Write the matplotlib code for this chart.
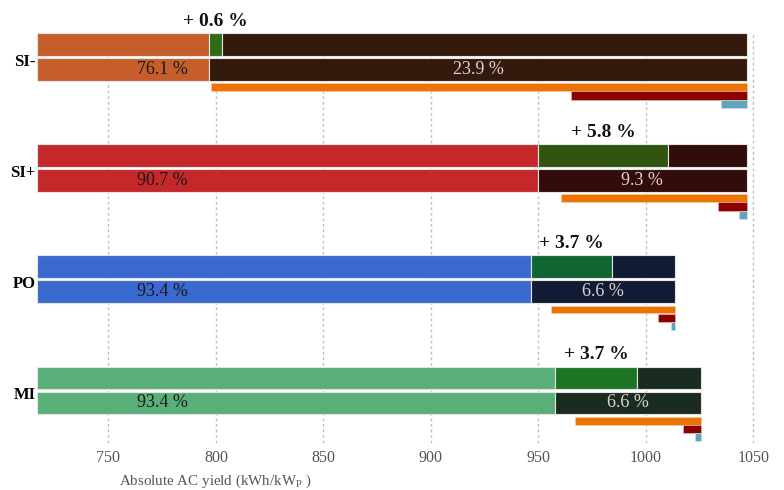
import numpy as np
import matplotlib
matplotlib.use("Agg")
import matplotlib.pyplot as plt

# yield per system (kWh/kWp)
systems = ["SI-", "SI+", "PO", "MI"]
potential = [1047.0, 1047.0, 1013.5, 1025.5]
base_share = [76.1, 90.7, 93.4, 93.4]
gain_share = [0.6, 5.8, 3.7, 3.7]
gain_labels = ["+ 0.6 %", "+ 5.8 %", "+ 3.7 %", "+ 3.7 %"]

# loss breakdown, right aligned to the potential yield (kWh/kWp)
loss_orange = [249.2, 86.7, 57.5, 58.6]
loss_red = [81.7, 13.3, 7.9, 8.3]
loss_blue = [12.2, 3.7, 1.9, 2.6]

base_colors = ["#C55E2B", "#C5282A", "#3A69CF", "#58AF78"]
gain_colors = ["#2F6A14", "#30550F", "#0F6632", "#1B7524"]
dark_colors = ["#34190D", "#320B0B", "#111B33", "#1A2C20"]

plt.rcParams['font.family'] = ['Liberation Serif', 'DejaVu Serif']

fig = plt.figure(figsize=(7.84, 4.9), dpi=100)
ax = fig.add_axes([37/784, 1-443/490, 733/784, 411/490])

edge = dict(edgecolor="#e4e4e4", linewidth=0.8)
for i in range(len(systems)):
    tot = potential[i]
    base = tot*base_share[i]/100
    gain = tot*gain_share[i]/100
    left0 = 716.8
    y_up = i + 0.102
    y_lo = i + 0.327

    # upper bar: base + gain + rest
    ax.barh(y_up, base-left0, left=left0, height=0.204, color=base_colors[i], **edge)
    ax.barh(y_up, gain, left=base, height=0.204, color=gain_colors[i], **edge)
    ax.barh(y_up, tot-base-gain, left=base+gain, height=0.204, color=dark_colors[i], **edge)
    # lower bar: base + loss
    ax.barh(y_lo, base-left0, left=left0, height=0.204, color=base_colors[i], **edge)
    ax.barh(y_lo, tot-base, left=base, height=0.204, color=dark_colors[i], **edge)

    # loss breakdown
    ax.barh(i + 0.487, loss_orange[i], left=tot-loss_orange[i], height=0.07,
            color="#EC7304", edgecolor="#f5d0b0", linewidth=0.4)
    ax.barh(i + 0.561, loss_red[i], left=tot-loss_red[i], height=0.075,
            color="#8C0000", edgecolor="#e8c0c0", linewidth=0.4)
    ax.barh(i + 0.636, loss_blue[i], left=tot-loss_blue[i], height=0.07,
            color="#63A3BC", edgecolor="#d0e4ec", linewidth=0.4)

    ax.text(775, y_lo, f"{base_share[i]:.1f} %", ha="center", va="center",
            fontsize=13, color="#1a1a1a")
    ax.text((base+tot)/2, y_lo, f"{100-base_share[i]:.1f} %", ha="center", va="center",
            fontsize=13, color="#ddd5cc")
    ax.text(base+gain/2, i - 0.105, gain_labels[i], ha="center", va="center",
            fontsize=14, fontweight="bold", color="#111111")

ax.set_xlim(716.8, 1057.7)
ax.set_ylim(3.687, -0.009)
ax.set_xticks([750, 800, 850, 900, 950, 1000, 1050])
ax.set_yticks(np.arange(len(systems)) + 0.24)
ax.set_yticklabels(systems, fontsize=12, fontweight="bold")
ax.tick_params(axis="x", length=0, pad=5, labelsize=11.5, labelcolor="#555555")
ax.tick_params(axis="y", length=0, pad=1)
ax.grid(axis="x", color="#c0c0c0", linestyle=(0, (2, 2)), linewidth=1)
ax.grid(axis="y", visible=False)
ax.set_axisbelow(True)
for s in ax.spines.values():
    s.set_visible(False)

fig.text(215/784, 1-481/490, r"Absolute AC yield (kWh/kW$_\mathregular{P}$ )",
         ha="center", va="center", fontsize=10.8, color="#555555")

fig.savefig("out.png", dpi=100)
